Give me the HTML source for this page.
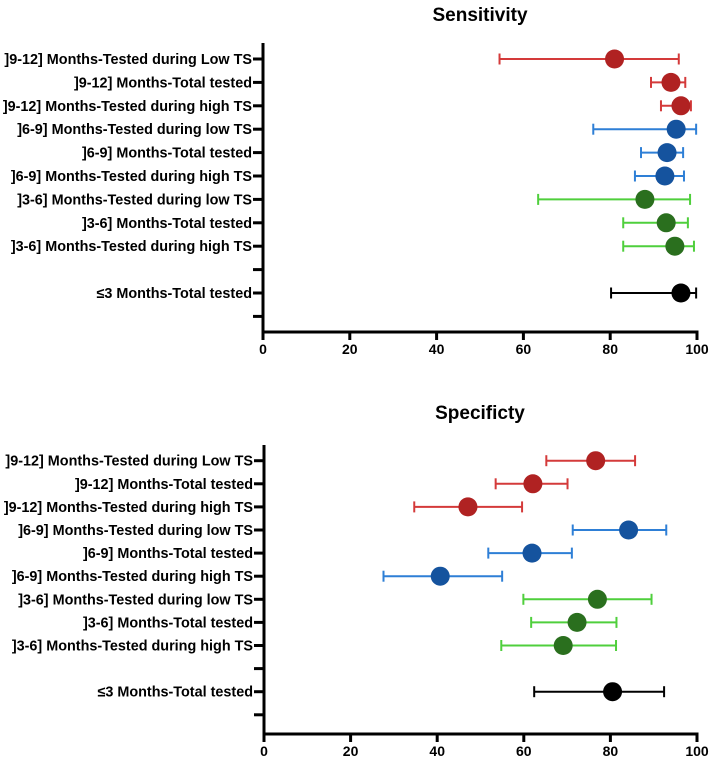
<!DOCTYPE html>
<html><head><meta charset="utf-8"><style>
html,body{margin:0;padding:0;background:#fff;}
svg{display:block;font-family:"Liberation Sans",sans-serif;}
</style></head><body>
<svg id="chart" width="709" height="763"></svg>
<script>
const labels=["]9-12] Months-Tested during Low TS","]9-12] Months-Total tested","]9-12] Months-Tested during high TS","]6-9] Months-Tested during low TS","]6-9] Months-Total tested","]6-9] Months-Tested during high TS","]3-6] Months-Tested during low TS","]3-6] Months-Total tested","]3-6] Months-Tested during high TS","","≤3 Months-Total tested",""];
const groups=["r","r","r","b","b","b","g","g","g",null,"k",null];
const sensVal=[81,94,96.3,95.2,93.1,92.6,88,92.9,94.9,null,96.3,null];
const sensLo=[54.5,89.4,91.7,76.1,87.1,85.7,63.4,83,83,null,80.2,null];
const sensHi=[95.8,97.3,98.6,99.8,96.8,97,98.4,97.9,99.3,null,99.8,null];
const specVal=[76.6,62.1,47.1,84.2,61.9,40.7,77,72.3,69.1,null,80.5,null];
const specLo=[65.2,53.5,34.7,71.3,51.8,27.6,59.9,61.7,54.8,null,62.4,null];
const specHi=[85.7,70.1,59.6,92.9,71.1,55,89.5,81.4,81.3,null,92.4,null];
const xTicks=[0,20,40,60,80,100];
const dotCol={r:"#b02222",b:"#15539e",g:"#2a6f1e",k:"#000"};
const barCol={r:"#d43a3a",b:"#2e7fd6",g:"#4fcf3c",k:"#000"};
const NS="http://www.w3.org/2000/svg";
const svg=document.getElementById("chart");
function mk(t,a,p){const e=document.createElementNS(NS,t);for(const k in a)e.setAttribute(k,a[k]);(p||svg).appendChild(e);return e;}
function panel(name,title,titleY,x0,x1,rowY0,rowStep,axisY,axisTop,vals,lo,hi){
  const g=mk("g",{});
  
  
  const sx=v=>x0+(x1-x0)*v/100;
  const sy=i=>rowY0+i*rowStep;
  const t=mk("text",{x:480,y:titleY,"text-anchor":"middle","font-size":"19","font-weight":"bold"},g);
  t.textContent=title;
  
  
  const ya=mk("line",{x1:x0,y1:axisTop,x2:x0,y2:axisY+1.5,stroke:"#000","stroke-width":3},g);
  
  
  const xa=mk("line",{x1:x0-1.5,y1:axisY,x2:x1+1.5,y2:axisY,stroke:"#000","stroke-width":3},g);
  
  
  xTicks.forEach(v=>{
    mk("line",{x1:sx(v),y1:axisY,x2:sx(v),y2:axisY+8,stroke:"#000","stroke-width":3},g);
    const tl=mk("text",{x:sx(v),y:axisY+22,"text-anchor":"middle","font-size":"14","font-weight":"bold"},g);
    tl.textContent=v;
    
    
  });
  labels.forEach((lab,i)=>{
    const y=sy(i);
    mk("line",{x1:x0-10,y1:y,x2:x0,y2:y,stroke:"#000","stroke-width":3},g);
    if(lab){
      const tl=mk("text",{x:x0-11,y:y+5,"text-anchor":"end","font-size":"14.4","font-weight":"bold"},g);
      tl.textContent=lab;
      
      
    }
    if(vals[i]==null)return;
    const c=groups[i];
    const eb=mk("g",{stroke:barCol[c],"stroke-width":2},g);
    
    
    mk("line",{x1:sx(lo[i]),y1:y,x2:sx(hi[i]),y2:y},eb);
    mk("line",{x1:sx(lo[i]),y1:y-5.5,x2:sx(lo[i]),y2:y+5.5},eb);
    mk("line",{x1:sx(hi[i]),y1:y-5.5,x2:sx(hi[i]),y2:y+5.5},eb);
    const p=mk("circle",{cx:sx(vals[i]),cy:y,r:9.5,fill:dotCol[c]},g);
    
    
  });
}
panel("sensitivity","Sensitivity",21,263,697,59,23.4,332,43,sensVal,sensLo,sensHi);
panel("specificity","Specificty",419,264,697,460.7,23.1,734,445,specVal,specLo,specHi);
</script>
</body></html>
